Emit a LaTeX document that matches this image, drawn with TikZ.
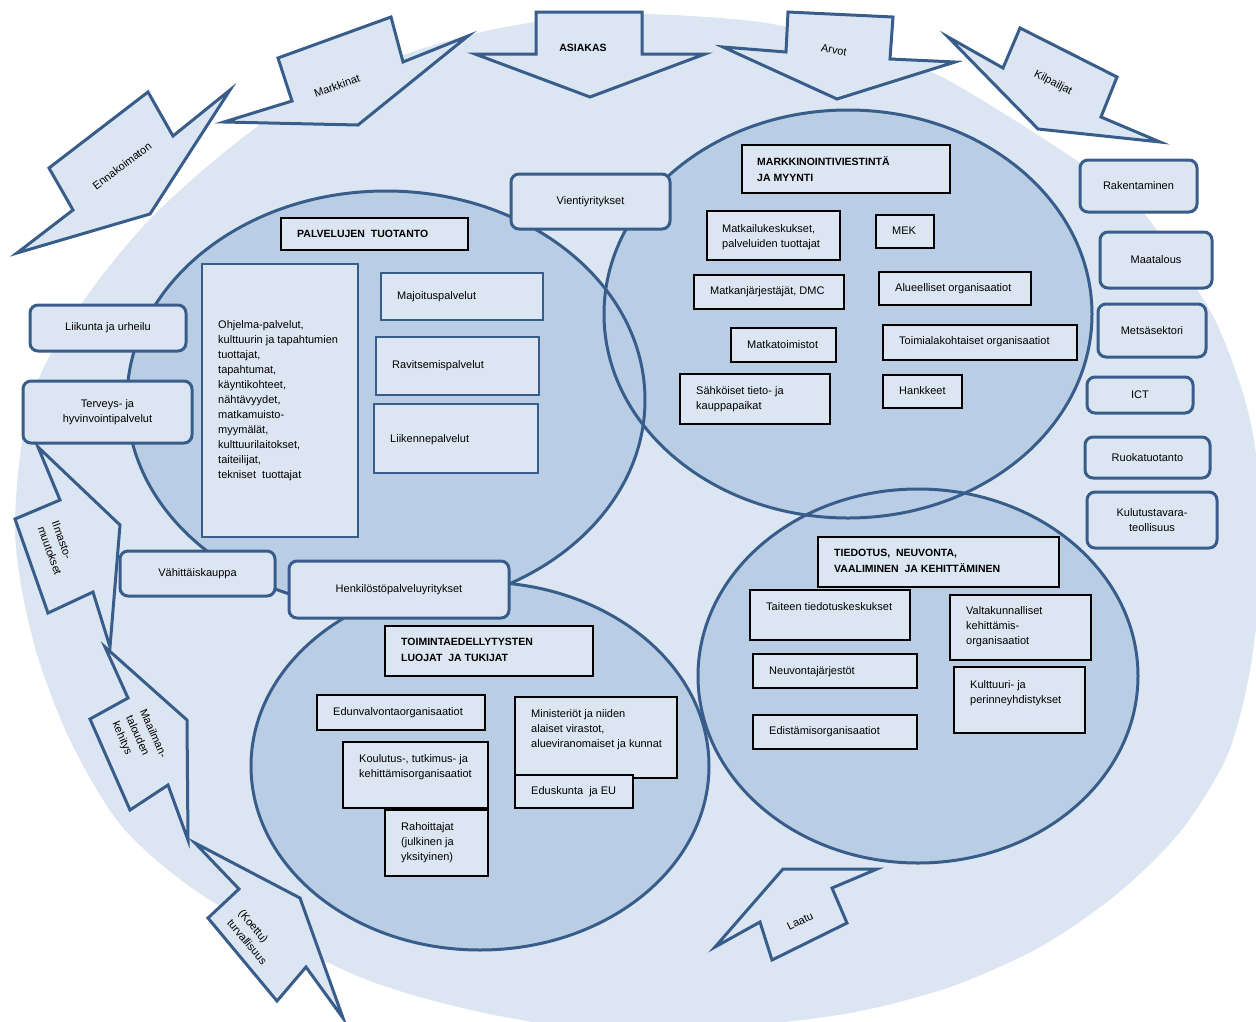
\documentclass[tikz,border=0pt]{standalone}
\usepackage{fontspec}
\setmainfont{Liberation Sans}
\definecolor{pale}{HTML}{DCE6F2}
\definecolor{mid}{HTML}{B9CDE5}
\definecolor{dblue}{HTML}{385D8A}
\newcommand\mkrbox[6]{\node[rbox, minimum width={#4-#2}, minimum height={#5-#3}] (#1) at ({(#2+#4)/2},{(#3+#5)/2}) {#6};}
\newcommand\mkbox[6]{\node[#1, minimum width={#5-#3}, minimum height={#6-#4}] (#2) at ({(#3+#5)/2},{(#4+#6)/2}) {};}
\newcommand\mktext[4]{\node[txt, anchor=west] (#1) at (#2,#3) {#4};}
\newcommand\mktitle[4]{\node[ttltxt, anchor=west] (#1) at (#2,#3) {#4};}
\begin{document}
\begin{tikzpicture}[x=1pt,y=-1pt,
  txt/.style={font=\fontsize{11}{15}\selectfont, inner sep=0pt, align=left},
  ttltxt/.style={font=\fontsize{10.5}{15.5}\selectfont\bfseries, inner sep=0pt, align=left},
  rbox/.style={draw=dblue, line width=3pt, fill=pale, rounded corners=8pt, font=\fontsize{11}{15}\selectfont, align=center, inner sep=0pt},
  bsq/.style={draw=dblue, line width=2.6pt, fill=pale, inner sep=0pt},
  ksq/.style={draw=black, line width=1.6pt, fill=pale, inner sep=0pt},
  ttl/.style={draw=black, line width=2.8pt, fill=pale, inner sep=0pt},
  arr/.style={draw=dblue, line width=3pt, fill=pale, line join=miter},
  ring/.style={draw=dblue, line width=3pt},
]
\useasboundingbox (0,0) rectangle (1256,1021);
\fill[white] (0,0) rectangle (1256,1021);
\clip (0,0) rectangle (1256,1021);
% big background shape
\fill[pale] plot[smooth cycle] coordinates {
 (15,530) (33,640) (70,740) (125,830) (213,902) (360,977) (480,1012) (600,1030)
 (730,1027) (850,1013) (950,987) (1040,947) (1117,894) (1180,832) (1227,756)
 (1250,670) (1262,560) (1258,470) (1245,400) (1215,320) (1170,250) (1119,190)
 (953,83) (860,47) (760,22) (620,14) (500,28) (390,60) (270,118) (157,212)
 (80,306) (30,402)};
% circles
\fill[mid] (386,400) ellipse [x radius=259pt, y radius=209pt];
\fill[mid] (848,314) ellipse [x radius=244pt, y radius=204pt];
\fill[mid] (918,676) ellipse [x radius=220pt, y radius=187pt];
\fill[mid] (480,766) ellipse [x radius=229pt, y radius=184pt];
\draw[ring] (386,400) ellipse [x radius=259pt, y radius=209pt];
\draw[ring] (848,314) ellipse [x radius=244pt, y radius=204pt];
\draw[ring] (918,676) ellipse [x radius=220pt, y radius=187pt];
\draw[ring] (480,766) ellipse [x radius=229pt, y radius=184pt];
% rounded boxes
\mkrbox{vie}{511}{174}{670}{229}{Vientiyritykset}
\mkrbox{rak}{1080}{160}{1197}{212}{Rakentaminen}
\mkrbox{maa}{1100}{232}{1212}{288}{Maatalous}
\mkrbox{met}{1098}{304}{1206}{357}{Metsäsektori}
\mkrbox{ict}{1087}{377}{1193}{413}{ICT}
\mkrbox{ruo}{1085}{437}{1210}{478}{Ruokatuotanto}
\mkrbox{kul}{1087}{492}{1217}{548}{Kulutustavara-\\teollisuus}
\mkrbox{lii}{30}{305}{186}{351}{Liikunta ja urheilu}
\mkrbox{ter}{23}{381}{192}{443}{Terveys- ja\\hyvinvointipalvelut}
\mkrbox{vah}{120}{551}{275}{596}{Vähittäiskauppa}
\mkrbox{hen}{289}{561}{509}{618}{Henkilöstöpalveluyritykset}
% circle 1 boxes
\mkbox{ttl}{b1t}{281}{218}{468}{250}
\mkbox{bsq}{b1a}{202}{264}{358}{537}
\mkbox{bsq}{b1b}{381}{273}{543}{320}
\mkbox{bsq}{b1c}{376}{337}{539}{395}
\mkbox{bsq}{b1d}{374}{404}{538}{473}
\mktitle{t1t}{297}{234}{PALVELUJEN~~TUOTANTO}
\mktext{t1a}{218}{401}{Ohjelma-palvelut,\\kulttuurin ja tapahtumien\\tuottajat,\\tapahtumat,\\käyntikohteet,\\nähtävyydet,\\matkamuisto-\\myymälät,\\kulttuurilaitokset,\\taiteilijat,\\tekniset~ tuottajat}
\mktext{t1b}{397}{297}{Majoituspalvelut}
\mktext{t1c}{392}{366}{Ravitsemispalvelut}
\mktext{t1d}{390}{440}{Liikennepalvelut}
% circle 2 boxes
\mkbox{ttl}{b2t}{742}{145}{950}{193}
\mkbox{ksq}{b2a}{707}{211}{840}{260}
\mkbox{ksq}{b2b}{876}{215}{934}{248}
\mkbox{ksq}{b2c}{694}{275}{844}{309}
\mkbox{ksq}{b2d}{879}{272}{1031}{305}
\mkbox{ksq}{b2e}{731}{328}{836}{362}
\mkbox{ksq}{b2f}{883}{325}{1077}{360}
\mkbox{ksq}{b2g}{680}{374}{830}{424}
\mkbox{ksq}{b2h}{883}{375}{962}{408}
\mktitle{t2t}{757}{169}{MARKKINOINTIVIESTINTÄ\\JA MYYNTI}
\mktext{t2a}{722}{237}{Matkailukeskukset,\\palveluiden tuottajat}
\mktext{t2b}{892}{231}{MEK}
\mktext{t2c}{710}{292}{Matkanjärjestäjät, DMC}
\mktext{t2d}{895}{289}{Alueelliset organisaatiot}
\mktext{t2e}{747}{345}{Matkatoimistot}
\mktext{t2f}{899}{342}{Toimialakohtaiset organisaatiot}
\mktext{t2g}{696}{399}{Sähköiset tieto- ja\\kauppapaikat}
\mktext{t2h}{899}{391}{Hankkeet}
% circle 3 boxes
\mkbox{ttl}{b3t}{818}{537}{1059}{587}
\mkbox{ksq}{b3a}{750}{590}{910}{640}
\mkbox{ksq}{b3b}{950}{595}{1091}{660}
\mkbox{ksq}{b3c}{753}{654}{917}{688}
\mkbox{ksq}{b3d}{954}{667}{1085}{733}
\mkbox{ksq}{b3e}{753}{715}{917}{749}
\mktitle{t3t}{834}{561}{TIEDOTUS,~~NEUVONTA,\\VAALIMINEN~~JA KEHITTÄMINEN}
\mktext{t3a}{766}{607}{Taiteen tiedotuskeskukset}
\mktext{t3b}{966}{627}{Valtakunnalliset\\kehittämis-\\organisaatiot}
\mktext{t3c}{769}{672}{Neuvontajärjestöt}
\mktext{t3d}{970}{693}{Kulttuuri- ja\\perinneyhdistykset}
\mktext{t3e}{769}{732}{Edistämisorganisaatiot}
% circle 4 boxes
\mkbox{ttl}{b4t}{385}{626}{593}{676}
\mkbox{ksq}{b4a}{317}{695}{485}{730}
\mkbox{ksq}{b4b}{343}{742}{488}{808}
\mkbox{ksq}{b4c}{385}{810}{488}{876}
\mkbox{ksq}{b4d}{515}{697}{677}{778}
\mkbox{ksq}{b4e}{515}{775}{633}{808}
\mktitle{t4t}{401}{650}{TOIMINTAEDELLYTYSTEN\\LUOJAT~~JA TUKIJAT}
\mktext{t4a}{333}{713}{Edunvalvontaorganisaatiot}
\mktext{t4b}{359}{767}{Koulutus-, tutkimus- ja\\kehittämisorganisaatiot}
\mktext{t4c}{401}{843}{Rahoittajat\\(julkinen ja\\yksityinen)}
\mktext{t4d}{531}{730}{Ministeriöt ja niiden\\alaiset virastot,\\alueviranomaiset ja kunnat}
\mktext{t4e}{531}{792}{Eduskunta~ ja EU}
% block arrows
\draw[arr] (17,253) -- (73,210) -- (49,168) -- (148,92) -- (173,136) -- (230,90) -- (150,214) -- cycle;
\draw[arr] (224,122) -- (292,101) -- (278,58) -- (391,17) -- (403,62) -- (468,36) -- (358,125) -- cycle;
\draw[arr] (475,54) -- (536,54) -- (536,12) -- (642,12) -- (642,54) -- (705,54) -- (590,97) -- cycle;
\draw[arr] (723,47) -- (786,52) -- (788,12) -- (893,17) -- (890,59) -- (955,62) -- (837,99) -- cycle;
\draw[arr] (948,37) -- (1003,68) -- (1020,28) -- (1117,77) -- (1101,117) -- (1160,142) -- (1038,129) -- cycle;
\draw[arr] (38,447) -- (120,525) -- (110,647) -- (93,592) -- (48,613) -- (15,519) -- (60,500) -- cycle;
\draw[arr] (105,647) -- (187,720) -- (188,840) -- (168,785) -- (130,810) -- (90,719) -- (128,698) -- cycle;
\draw[arr] (195,843) -- (300,898) -- (343,1018) -- (306,967) -- (277,1001) -- (208,918) -- (239,889) -- cycle;
\draw[arr] (715,947) -- (783,869) -- (877,869) -- (832,888) -- (847,923) -- (772,960) -- (760,922) -- cycle;
% arrow labels
\node[txt, rotate=37] (aen) at (122,166) {Ennakoimaton};
\node[txt, rotate=20] (ama) at (337,86) {Markkinat};
\node[txt, font=\fontsize{10.5}{13}\selectfont\bfseries] (aas) at (583,48) {ASIAKAS};
\node[txt, rotate=-10] (aar) at (834,50) {Arvot};
\node[txt, rotate=-27] (aki) at (1053,83) {Kilpailjat};
\node[txt, rotate=-70] (ail) at (57,548) {Ilmasto-\\muutokset};
\node[txt, rotate=-66] (ama2) at (139,740) {Maailman-\\talouden\\kehitys};
\node[txt, rotate=-50] (ako) at (253,937) {(Koettu)\\turvallisuus};
\node[txt, rotate=26] (ala) at (800,921) {Laatu};
\end{tikzpicture}
\end{document}
